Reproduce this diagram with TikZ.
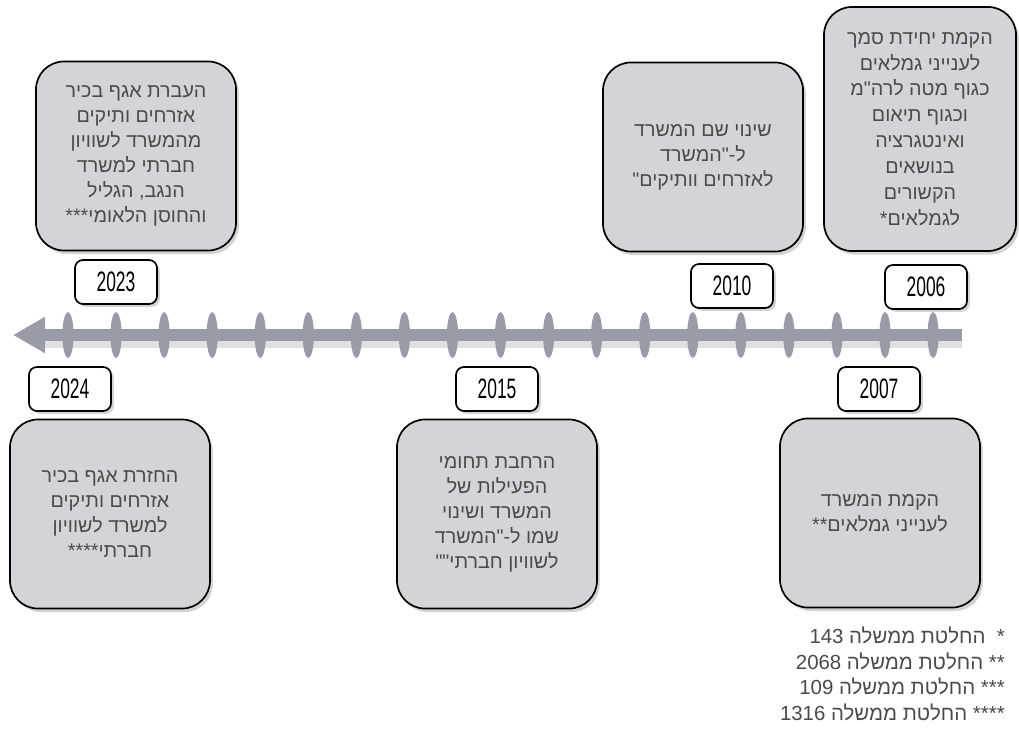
\documentclass[tikz,border=0pt]{standalone}
\usepackage{fontspec}
\usepackage{tikz}
\usetikzlibrary{arrows.meta,positioning,shadows}
\TeXXeTstate=1
\newfontfamily\hebfont[Script=Hebrew]{Liberation Sans}
\newfontfamily\yearfont[FakeStretch=0.62]{Liberation Sans}
\definecolor{AxisGray}{HTML}{9A9BA8}
\definecolor{BoxGray}{HTML}{D4D4D8}
\definecolor{TextGray}{HTML}{4A4A4A}
\newcommand{\rtl}[1]{\beginR #1\endR}

\begin{document}
\begin{tikzpicture}[x=0.025cm,y=-0.025cm,
  eventbox/.style={draw=black,line width=1.2pt,fill=BoxGray,rounded corners=0.7cm,
    minimum width=5cm,minimum height=4.725cm,align=center,text=TextGray,
    font=\hebfont\fontsize{14}{17.8}\selectfont,
    drop shadow={shadow xshift=2pt,shadow yshift=-2.5pt,opacity=0.35}},
  yearbox/.style={draw=black,line width=1.2pt,fill=white,rounded corners=0.2cm,
    minimum width=2.05cm,minimum height=1.1cm,
    font=\yearfont\fontsize{20}{22}\selectfont,
    drop shadow={shadow xshift=2pt,shadow yshift=-2pt,opacity=0.35}},
  axistick/.style={fill=AxisGray}]
  \useasboundingbox (0,0) rectangle (1019,737);

  % the time axis, newest year at the arrow end
  \fill[black,opacity=0.12] (45,334) rectangle (962,348);
  \draw[AxisGray,line width=0.3cm,-{Triangle[width=0.85cm,length=0.8cm]}]
      (962,335) -- (13,335);
  \foreach \k in {0,...,18}
    \fill[axistick] ({68+48.06*\k},335) ellipse [x radius=0.14cm,y radius=0.575cm];

  % above the axis
  \node[eventbox] (ev2023) at (136,156) {\rtl{העברת אגף בכיר}\\\rtl{אזרחים ותיקים}\\
    \rtl{מהמשרד לשוויון}\\\rtl{חברתי למשרד}\\\rtl{הנגב, הגליל}\\\rtl{והחוסן הלאומי***}};
  \node[eventbox] (ev2010) at (703,157) {\rtl{שינוי שם המשרד}\\\rtl{ל-"המשרד}\\
    \rtl{לאזרחים וותיקים"}};
  \node[eventbox,minimum width=4.8cm,minimum height=6.1cm,font=\hebfont\fontsize{14}{18.4}\selectfont]
      (ev2006) at (920,129) {\rtl{הקמת יחידת סמך}\\\rtl{לענייני גמלאים}\\
    \rtl{כגוף מטה לרה"מ}\\\rtl{וכגוף תיאום}\\\rtl{ואינטגרציה}\\\rtl{בנושאים}\\
    \rtl{הקשורים}\\\rtl{לגמלאים*}};
  \node[yearbox] (y2023) at (116,282) {2023};
  \node[yearbox] (y2010) at (732,286) {2010};
  \node[yearbox] (y2006) at (926,287) {2006};

  % below the axis
  \node[yearbox] (y2024) at (70,389) {2024};
  \node[yearbox] (y2015) at (497,389) {2015};
  \node[yearbox] (y2007) at (879,389) {2007};
  \node[eventbox] (ev2024) at (110,514) {\rtl{החזרת אגף בכיר}\\\rtl{אזרחים ותיקים}\\
    \rtl{למשרד לשוויון}\\\rtl{חברתי****}};
  \node[eventbox] (ev2015) at (497,514) {\rtl{הרחבת תחומי}\\\rtl{הפעילות של}\\
    \rtl{המשרד ושינוי}\\\rtl{שמו ל-"המשרד}\\\rtl{לשוויון חברתי""}};
  \node[eventbox] (ev2007) at (880,513) {\rtl{הקמת המשרד}\\\rtl{לענייני גמלאים**}};

  \node[anchor=north east,align=right,inner sep=0pt,text=TextGray,
        font=\hebfont\fontsize{14.5}{18.1}\selectfont] (notes) at (1005,627) {
    \rtl{*\ \ החלטת ממשלה \beginL 143\endL{}}\\
    \rtl{** החלטת ממשלה \beginL 2068\endL{}}\\
    \rtl{*** החלטת ממשלה \beginL 109\endL{}}\\
    \rtl{**** החלטת ממשלה \beginL 1316\endL{}}};
\end{tikzpicture}
\end{document}
